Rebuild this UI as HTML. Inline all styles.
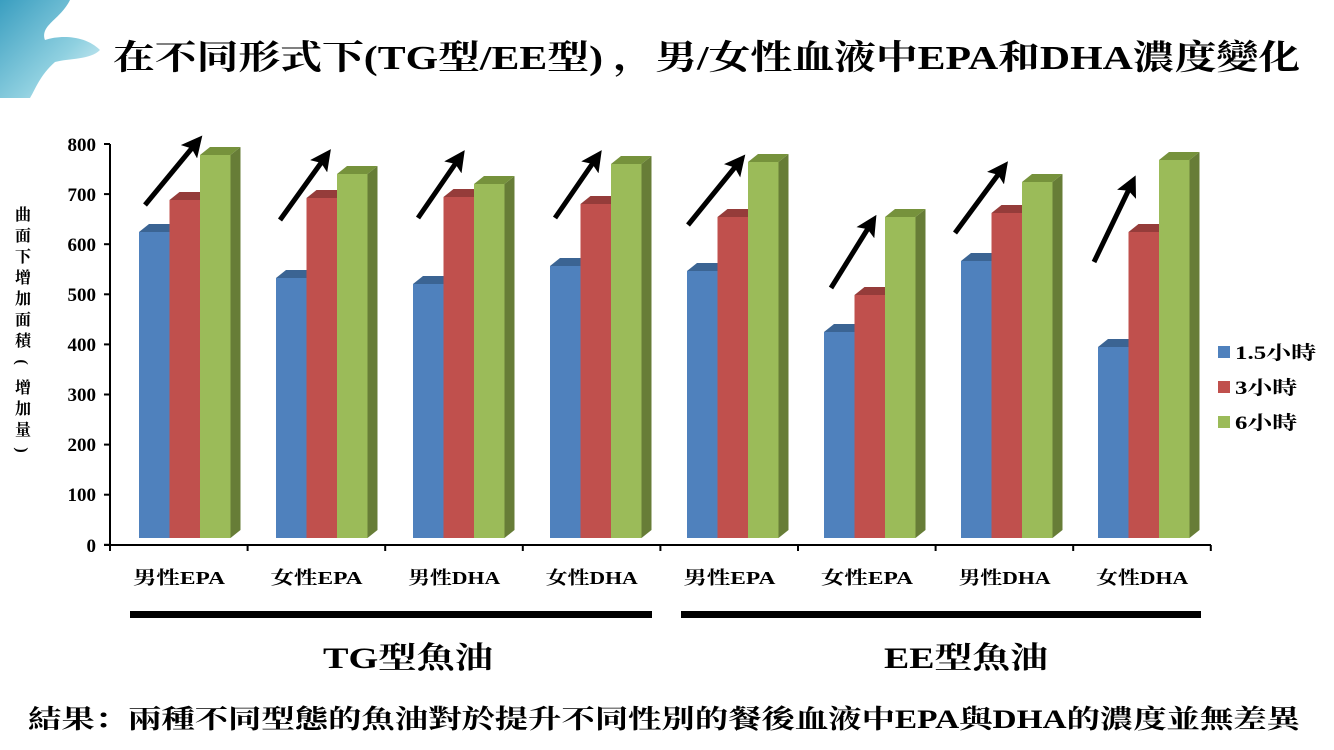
<!DOCTYPE html>
<html><head><meta charset="utf-8"><style>
body{margin:0;width:1334px;height:750px;background:#fff;overflow:hidden;font-family:"Liberation Serif","Noto Serif CJK SC","Noto Sans CJK TC",serif;}
svg{position:absolute;left:0;top:0}
</style></head><body>
<svg id="s" width="1334" height="750" xmlns="http://www.w3.org/2000/svg" font-family="'Liberation Serif','Noto Serif CJK SC','Noto Sans CJK TC',serif" font-weight="bold">
<defs>
<linearGradient id="w" x1="0" y1="0" x2="1" y2="1"><stop offset="0" stop-color="#3a9ec0"/><stop offset="0.6" stop-color="#8fd0e0"/><stop offset="1" stop-color="#e8f6fa"/></linearGradient>
<marker id="ah" viewBox="0 0 10 10" refX="6" refY="5" markerWidth="4.2" markerHeight="4.2" orient="auto"><path d="M0,0 L10,5 L0,10 L2,5 z" fill="#000"/></marker>
</defs>
<path d="M0,0 H70 C60,20 40,25 45,40 C60,35 85,35 100,50 C90,60 70,58 55,62 C40,75 35,90 30,98 H0 Z" fill="url(#w)"/>
<text x="113" y="69" font-size="34" textLength="1187" lengthAdjust="spacingAndGlyphs">在不同形式下(TG型/EE型) ，男/女性血液中EPA和DHA濃度變化</text>
<g id="chart"></g>
<g font-size="19" text-anchor="end">
<text x="96" y="151">800</text><text x="96" y="201">700</text><text x="96" y="251">600</text><text x="96" y="301">500</text><text x="96" y="351">400</text><text x="96" y="401">300</text><text x="96" y="451">200</text><text x="96" y="501">100</text><text x="96" y="552">0</text>
</g>
<g font-size="16" text-anchor="middle">
<text x="23" y="220">曲</text><text x="23" y="241">面</text><text x="23" y="262">下</text><text x="23" y="283">增</text><text x="23" y="304">加</text><text x="23" y="325">面</text><text x="23" y="346">積</text><text x="23" y="368" transform="rotate(90 23 362)">(</text><text x="23" y="393">增</text><text x="23" y="414">加</text><text x="23" y="435">量</text><text x="23" y="456" transform="rotate(90 23 450)">)</text>
</g>
<rect x="1218" y="346" width="12" height="12" fill="#4f81bd"/><rect x="1218" y="381" width="12" height="12" fill="#c0504d"/><rect x="1218" y="416" width="12" height="12" fill="#9bbb59"/>
<g font-size="19"><text x="1235" y="359" textLength="81" lengthAdjust="spacingAndGlyphs">1.5小時</text><text x="1235" y="394" textLength="62" lengthAdjust="spacingAndGlyphs">3小時</text><text x="1235" y="429" textLength="62" lengthAdjust="spacingAndGlyphs">6小時</text></g>
<rect x="130" y="611" width="522" height="7" fill="#000"/><rect x="681" y="611" width="520" height="7" fill="#000"/>
<g font-size="30"><text x="323" y="668" textLength="170" lengthAdjust="spacingAndGlyphs">TG型魚油</text><text x="884" y="668" textLength="164" lengthAdjust="spacingAndGlyphs">EE型魚油</text></g>
<text x="28" y="728" font-size="26" textLength="1272" lengthAdjust="spacingAndGlyphs">結果：兩種不同型態的魚油對於提升不同性別的餐後血液中EPA與DHA的濃度並無差異</text>
</svg>
<script>
var g=document.getElementById('chart'),h='';
var tops=[[232,200,155],[278,198,174],[284,197,184],[266,204,164],[271,217,162],[332,295,217],[261,213,182],[347,232,160]];
var cols=[['#4f81bd','#3b6493','#3a5f8c'],['#c0504d','#953c3a','#8f3a37'],['#9bbb59','#76923c','#677d37']];
var labs=['男性EPA','女性EPA','男性DHA','女性DHA','男性EPA','女性EPA','男性DHA','女性DHA'];
var arr=[[145,205,197,142],[280,220,326,156],[418,218,460,157],[555,218,597,157],[688,225,740,161],[831,288,872,222],[955,233,1003,168],[1094,262,1132,183]];
var B=538,W=30.5,dx=10,dy=8;
h+='<line x1="110" y1="144" x2="110" y2="546" stroke="#000" stroke-width="2"/>';
h+='<line x1="104" y1="545" x2="1211" y2="545" stroke="#000" stroke-width="2"/>';
for(var t=0;t<=8;t++){var y=144+t*50.1;h+='<line x1="104" y1="'+y+'" x2="110" y2="'+y+'" stroke="#000" stroke-width="2"/>';}
for(var c=0;c<=8;c++){var x=110+c*137.6;h+='<line x1="'+x+'" y1="545" x2="'+x+'" y2="551" stroke="#000" stroke-width="2"/>';}
for(var i=0;i<8;i++){var x0=139+i*137;
 for(var k=0;k<3;k++){var x=x0+k*W,y=tops[i][k],cl=cols[k];
  h+='<polygon points="'+(x+W)+','+y+' '+(x+W+dx)+','+(y-dy)+' '+(x+W+dx)+','+(B-dy)+' '+(x+W)+','+B+'" fill="'+cl[2]+'"/>';
  h+='<polygon points="'+x+','+y+' '+(x+dx)+','+(y-dy)+' '+(x+W+dx)+','+(y-dy)+' '+(x+W)+','+y+'" fill="'+cl[1]+'"/>';
  h+='<rect x="'+x+'" y="'+y+'" width="'+W+'" height="'+(B-y)+'" fill="'+cl[0]+'"/>';}
 h+='<text x="'+(133+i*137.6)+'" y="584" font-size="18" textLength="92" lengthAdjust="spacingAndGlyphs">'+labs[i]+'</text>';
 var a=arr[i];h+='<line x1="'+a[0]+'" y1="'+a[1]+'" x2="'+a[2]+'" y2="'+a[3]+'" stroke="#000" stroke-width="5" marker-end="url(#ah)"/>';}
g.innerHTML=h;
</script>
</body></html>
